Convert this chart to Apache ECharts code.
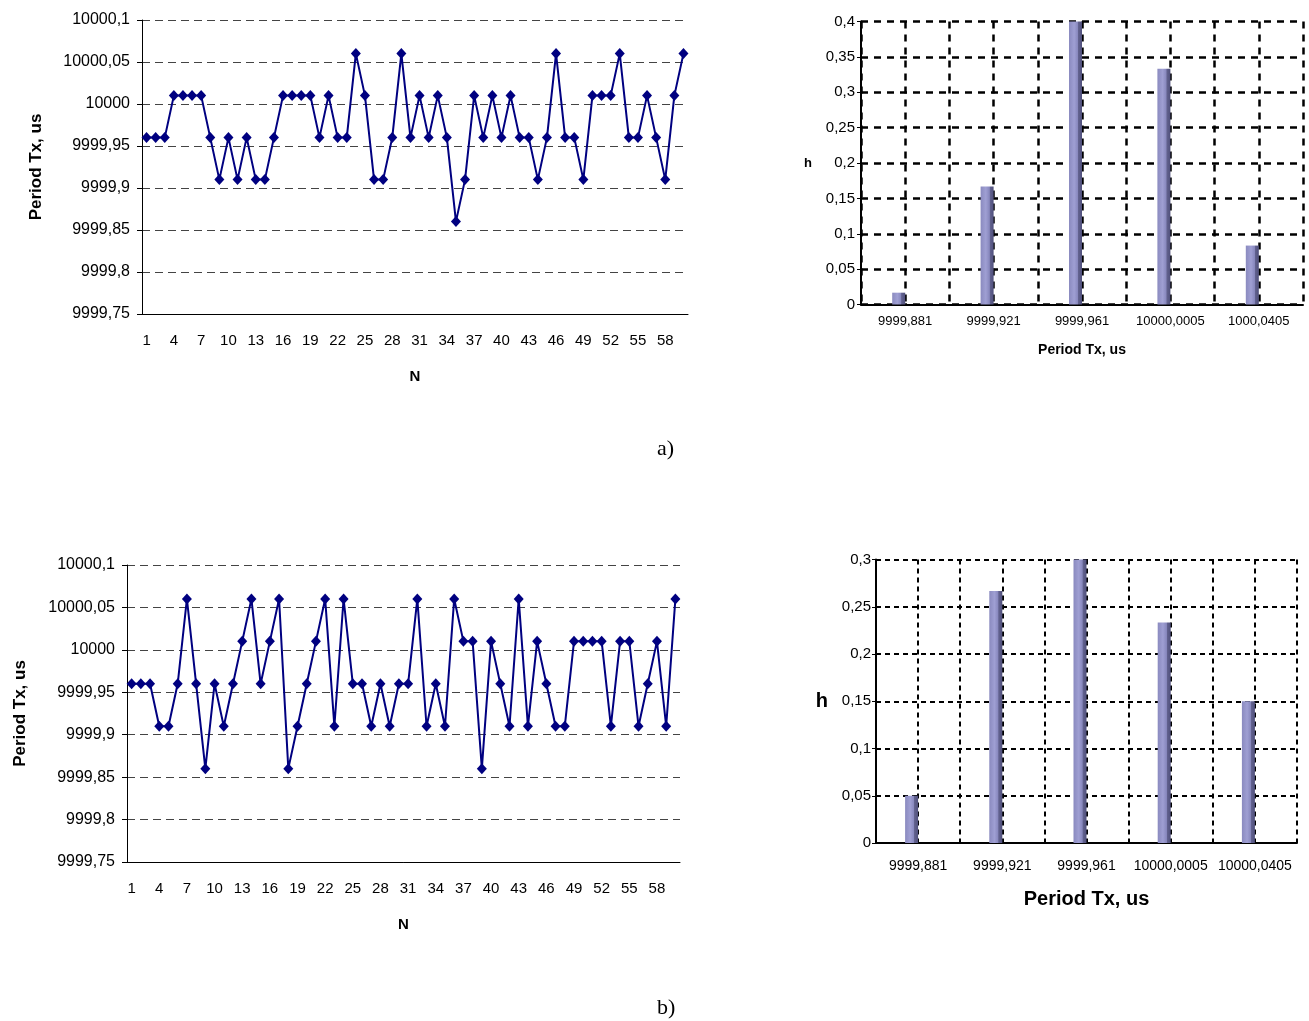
<!DOCTYPE html>
<html>
<head>
<meta charset="utf-8">
<script src="https://cdn.jsdelivr.net/npm/echarts@6/dist/echarts.min.js"></script>
<style>
html,body{margin:0;padding:0;background:#fff;}
#chart{width:1309px;height:1021px;}
</style>
</head>
<body>
<div id="chart"></div>
<script>
// ---------- data ----------
const nCategories = ['1','2','3','4','5','6','7','8','9','10','11','12','13','14','15','16','17','18','19','20',
  '21','22','23','24','25','26','27','28','29','30','31','32','33','34','35','36','37','38','39','40',
  '41','42','43','44','45','46','47','48','49','50','51','52','53','54','55','56','57','58','59','60'];

const periodA = [9999.96, 9999.96, 9999.96, 10000.01, 10000.01, 10000.01, 10000.01, 9999.96, 9999.91, 9999.96,
  9999.91, 9999.96, 9999.91, 9999.91, 9999.96, 10000.01, 10000.01, 10000.01, 10000.01, 9999.96,
  10000.01, 9999.96, 9999.96, 10000.06, 10000.01, 9999.91, 9999.91, 9999.96, 10000.06, 9999.96,
  10000.01, 9999.96, 10000.01, 9999.96, 9999.86, 9999.91, 10000.01, 9999.96, 10000.01, 9999.96,
  10000.01, 9999.96, 9999.96, 9999.91, 9999.96, 10000.06, 9999.96, 9999.96, 9999.91, 10000.01,
  10000.01, 10000.01, 10000.06, 9999.96, 9999.96, 10000.01, 9999.96, 9999.91, 10000.01, 10000.06];

const periodB = [9999.96, 9999.96, 9999.96, 9999.91, 9999.91, 9999.96, 10000.06, 9999.96, 9999.86, 9999.96,
  9999.91, 9999.96, 10000.01, 10000.06, 9999.96, 10000.01, 10000.06, 9999.86, 9999.91, 9999.96,
  10000.01, 10000.06, 9999.91, 10000.06, 9999.96, 9999.96, 9999.91, 9999.96, 9999.91, 9999.96,
  9999.96, 10000.06, 9999.91, 9999.96, 9999.91, 10000.06, 10000.01, 10000.01, 9999.86, 10000.01,
  9999.96, 9999.91, 10000.06, 9999.91, 10000.01, 9999.96, 9999.91, 9999.91, 10000.01, 10000.01,
  10000.01, 10000.01, 9999.91, 10000.01, 10000.01, 9999.91, 9999.96, 10000.01, 9999.91, 10000.06];

const binsA = ['9999,881', '9999,921', '9999,961', '10000,0005', '1000,0405'];
const histA = [0.0167, 0.1667, 0.4, 0.3333, 0.0833];

const binsB = ['9999,881', '9999,921', '9999,961', '10000,0005', '10000,0405'];
const histB = [0.05, 0.2667, 0.3, 0.2333, 0.15];

// ---------- chart ----------
const FONT = '"Liberation Sans", Arial, sans-serif';
const commaFmt = v => String(Math.round(v * 100) / 100).replace('.', ',');

const chart = echarts.init(document.getElementById('chart'), null, {renderer: 'canvas'});

const barColor = new echarts.graphic.LinearGradient(0, 0, 1, 0, [
  {offset: 0, color: '#8a8abf'},
  {offset: 0.4, color: '#9f9fd3'},
  {offset: 0.68, color: '#8787bd'},
  {offset: 0.72, color: '#62628f'},
  {offset: 1, color: '#50507c'}
]);

function lineX(grid, data) {
  return {
    gridIndex: grid, type: 'category', data: data, boundaryGap: true,
    axisLine: {lineStyle: {color: '#000', width: 1}},
    axisTick: {interval: 0, length: 4, lineStyle: {color: '#000'}},
    axisLabel: {interval: 2, fontSize: 15, color: '#000', margin: 19, fontFamily: FONT},
    splitLine: {show: false},
    name: 'N', nameLocation: 'middle', nameGap: 55,
    nameTextStyle: {fontWeight: 'bold', fontSize: 15, color: '#000', fontFamily: FONT}
  };
}
function lineY(grid, gap) {
  return {
    gridIndex: grid, type: 'value', min: 9999.75, max: 10000.1, interval: 0.05,
    axisLine: {show: true, lineStyle: {color: '#000', width: 1}},
    axisTick: {show: true, length: 5, lineStyle: {color: '#000'}},
    axisLabel: {fontSize: 16, color: '#000', margin: 12, formatter: commaFmt, fontFamily: FONT},
    splitLine: {show: true, lineStyle: {color: '#444', width: 1, type: [8, 5]}},
    name: 'Period Tx, us', nameLocation: 'middle', nameRotate: 90, nameGap: gap,
    nameTextStyle: {fontWeight: 'bold', fontSize: 17, color: '#000', fontFamily: FONT}
  };
}
function histX(grid, data, labelSize, labelMargin, nameSize, nameGap) {
  return {
    gridIndex: grid, type: 'category', data: data, boundaryGap: true,
    axisLine: {lineStyle: {color: '#000', width: 2}},
    axisTick: {interval: 0, length: 5, lineStyle: {color: '#000', width: 2}},
    axisLabel: {interval: 0, fontSize: labelSize, color: '#000', margin: labelMargin, fontFamily: FONT},
    splitLine: {show: false},
    name: 'Period Tx, us', nameLocation: 'middle', nameGap: nameGap,
    nameTextStyle: {fontWeight: 'bold', fontSize: nameSize, color: '#000', fontFamily: FONT}
  };
}
function histHelperX(grid, dash, width) {
  return {
    gridIndex: grid, type: 'value', min: 0, max: 10, interval: 1, position: 'top',
    axisLine: {show: false}, axisTick: {show: false}, axisLabel: {show: false},
    splitLine: {show: true, lineStyle: {color: '#000', width: width, type: dash}}
  };
}
function histY(grid, max, labelSize, labelMargin, nameSize, nameGap, dash, width) {
  return {
    gridIndex: grid, type: 'value', min: 0, max: max, interval: 0.05,
    axisLine: {show: true, lineStyle: {color: '#000', width: 2}},
    axisTick: {show: true, length: 4, lineStyle: {color: '#000', width: 1}},
    axisLabel: {fontSize: labelSize, color: '#000', margin: labelMargin, formatter: commaFmt, fontFamily: FONT},
    splitLine: {show: true, lineStyle: {color: '#000', width: width, type: dash}},
    name: 'h', nameLocation: 'middle', nameRotate: 0, nameGap: nameGap,
    nameTextStyle: {fontWeight: 'bold', fontSize: nameSize, color: '#000', fontFamily: FONT}
  };
}

const option = {
  animation: false,
  backgroundColor: '#fff',
  textStyle: {fontFamily: FONT, color: '#000'},
  grid: [
    {left: 142, top: 20, width: 546, height: 294},
    {left: 861, top: 21.5, width: 442, height: 283},
    {left: 127, top: 565, width: 553, height: 297},
    {left: 876, top: 559.5, width: 421, height: 283.5}
  ],
  xAxis: [
    lineX(0, nCategories),
    histX(1, binsA, 13, 10, 14, 39),
    histHelperX(1, [7, 6], 2.5),
    lineX(2, nCategories),
    histX(3, binsB, 14, 16, 20, 46),
    histHelperX(3, [5, 4], 2)
  ],
  yAxis: [
    lineY(0, 97),
    histY(1, 0.4, 15, 6, 13, 49, [7, 6], 2.5),
    lineY(2, 98),
    histY(3, 0.3, 15, 5, 20, 48, [5, 4], 2)
  ],
  series: [
    {type: 'line', xAxisIndex: 0, yAxisIndex: 0, data: periodA, showAllSymbol: true,
     symbol: 'diamond', symbolSize: [10, 11], lineStyle: {color: '#000080', width: 2},
     itemStyle: {color: '#000080'}},
    {type: 'bar', xAxisIndex: 1, yAxisIndex: 1, data: histA, barWidth: 13, barGap: '0%',
     itemStyle: {color: barColor}},
    {type: 'bar', xAxisIndex: 1, yAxisIndex: 1, data: [], barWidth: 13, barGap: '0%', silent: true},
    {type: 'line', xAxisIndex: 3, yAxisIndex: 2, data: periodB, showAllSymbol: true,
     symbol: 'diamond', symbolSize: [10, 11], lineStyle: {color: '#000080', width: 2},
     itemStyle: {color: '#000080'}},
    {type: 'bar', xAxisIndex: 4, yAxisIndex: 3, data: histB, barWidth: 13, barGap: '0%',
     itemStyle: {color: barColor}},
    {type: 'bar', xAxisIndex: 4, yAxisIndex: 3, data: [], barWidth: 13, barGap: '0%', silent: true}
  ],
  graphic: [
    {type: 'text', left: 657, top: 438, style: {text: 'a)', font: '22px "Liberation Serif", "Times New Roman", serif', fill: '#000'}},
    {type: 'text', left: 657, top: 997, style: {text: 'b)', font: '22px "Liberation Serif", "Times New Roman", serif', fill: '#000'}}
  ]
};
chart.setOption(option);
</script>
</body>
</html>
